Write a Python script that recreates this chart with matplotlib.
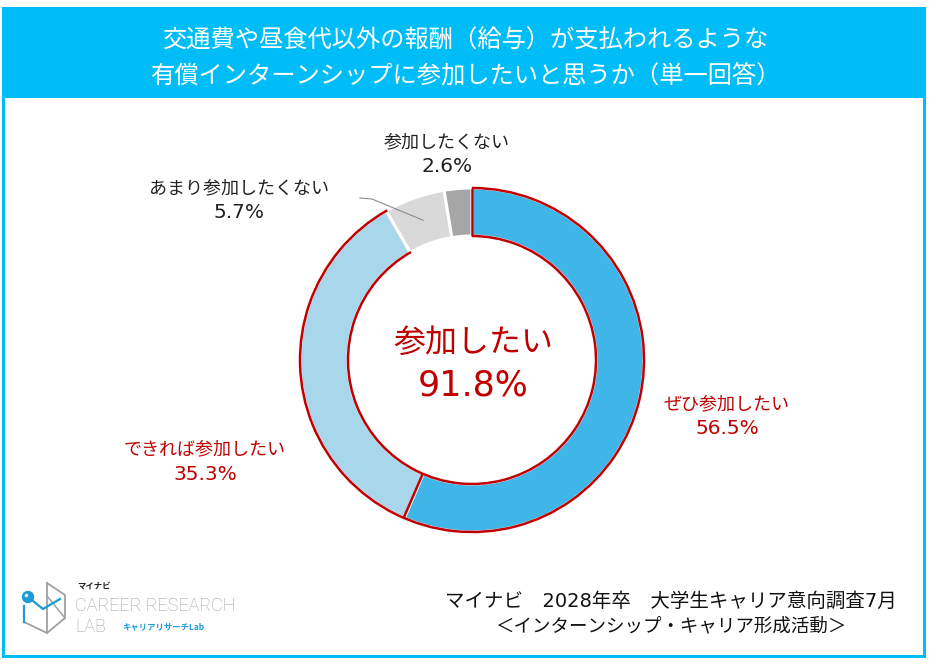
import numpy as np
import matplotlib
matplotlib.use('Agg')
import matplotlib.pyplot as plt
from matplotlib.patches import Rectangle, Arc, Circle

plt.rcParams['font.family'] = ['Noto Sans CJK JP', 'DejaVu Sans']

# データ
labels = ['ぜひ参加したい', 'できれば参加したい', 'あまり参加したくない', '参加したくない']
values = [56.5, 35.3, 5.7, 2.6]
colors = ['#3FB5E8', '#A8D7EC', '#D9D9D9', '#A6A6A6']
total_label = '参加したい'
total_value = 91.8
title = '交通費や昼食代以外の報酬（給与）が支払われるような\n有償インターンシップに参加したいと思うか（単一回答）'
source1 = 'マイナビ　2028年卒　大学生キャリア意向調査7月'
source2 = '＜インターンシップ・キャリア形成活動＞'

W, H = 934, 667
red = '#C00000'
frame_blue = '#00BDF7'
num_font = ['DejaVu Sans', 'Noto Sans CJK JP']

fig = plt.figure(figsize=(W / 100, H / 100), dpi=100)
ax = fig.add_axes([0, 0, 1, 1])

def Y(y):
    # 画像の上からのピクセルを下からの座標に
    return H - y

# 枠とヘッダー
ax.add_patch(Rectangle((3, Y(656)), 921, 648, fill=False, ec=frame_blue, lw=2.2, zorder=1))
ax.add_patch(Rectangle((3, Y(98)), 921, 90, fc=frame_blue, ec=frame_blue, lw=0, zorder=1))
ax.text(465, Y(58), title, ha='center', va='center', color='white', fontsize=17.5,
        linespacing=1.45, zorder=3)

# ドーナツ
cx, cy = 472, Y(360)
r_out, r_in = 172, 124
wedges, _ = ax.pie(values, colors=colors, startangle=90, counterclock=False,
                   radius=r_out, center=(cx, cy),
                   wedgeprops=dict(width=r_out - r_in, edgecolor='white', linewidth=2.2))

# 「参加したい」部分の赤い外枠
want = values[0] + values[1]
th_end = 90 - want * 3.6
for r in (r_out, r_in):
    ax.add_patch(Arc((cx, cy), 2 * r, 2 * r, theta1=th_end, theta2=90, color=red, lw=1.8, zorder=4))
for th in (90, 90 - values[0] * 3.6):
    t = np.deg2rad(th)
    ax.plot([cx + r_in * np.cos(t), cx + r_out * np.cos(t)],
            [cy + r_in * np.sin(t), cy + r_out * np.sin(t)], color=red, lw=1.8, zorder=4,
            solid_capstyle='butt')

# 中央のテキスト
ax.text(cx + 1, Y(343), total_label, ha='center', va='center', color=red, fontsize=23, zorder=5)
ax.text(cx + 1, Y(385), f'{total_value}%', ha='center', va='center', color=red, fontsize=25,
        family=num_font, zorder=5)

# ラベル
label_pos = [(727, 404, red), (205, 449, red), (239, 188, '#222222'), (447, 142, '#222222')]
for lab, v, (lx, ly, c) in zip(labels, values, label_pos):
    ax.text(lx, Y(ly), lab, ha='center', va='center', fontsize=13, color=c, zorder=5)
    ax.text(lx, Y(ly + 25), f'{v}%', ha='center', va='center', fontsize=14.5, color=c,
            family=num_font, zorder=5)

# あまり参加したくない の引き出し線
mid = 90 - (values[0] + values[1] + values[2] / 2) * 3.6
t = np.deg2rad(mid)
r_mid = (r_out + r_in) / 2
ax.plot([360, 372, cx + r_mid * np.cos(t)], [Y(198), Y(199), cy + r_mid * np.sin(t)],
        color='#8C8C8C', lw=0.8, zorder=5)

# 出典
ax.text(671, Y(601), source1, ha='center', va='center', fontsize=14, color='#111111',
        family=num_font, zorder=5)
ax.text(671, Y(626), source2, ha='center', va='center', fontsize=13.3, color='#111111', zorder=5)

# ロゴ(簡易)
g = '#A0A0A0'
b = '#1E9BD7'
ax.plot([47, 65, 65, 47, 24], [Y(583), Y(595), Y(618), Y(633), Y(622)], color=g, lw=1.3, zorder=5)
ax.plot([47, 47], [Y(583), Y(633)], color=g, lw=1.3, zorder=5)
ax.plot([47, 65], [Y(596), Y(618)], color=g, lw=1.1, zorder=5)
ax.plot([24, 24], [Y(606), Y(622)], color=b, lw=1.6, zorder=6)
ax.plot([28, 43, 60], [Y(597), Y(609), Y(599)], color=b, lw=1.6, zorder=6)
ax.add_patch(Circle((28, Y(597)), 5.5, fc=b, ec=b, zorder=7))
ax.add_patch(Circle((26.5, Y(595.5)), 1.8, fc='#D6F1FF', ec='none', zorder=8))
ax.text(77, Y(586), 'マイナビ', ha='left', va='center', fontsize=6, fontweight='bold', color='#222222', zorder=5)
ax.text(75, Y(606), 'CAREER RESEARCH', ha='left', va='center', fontsize=13, color=g,
        family=['Roboto', 'DejaVu Sans'], fontweight='light', zorder=5)
ax.text(75, Y(627), 'LAB', ha='left', va='center', fontsize=13, color=g,
        family=['Roboto', 'DejaVu Sans'], fontweight='light', zorder=5)
ax.text(122, Y(627), 'キャリアリサーチLab', ha='left', va='center', fontsize=6, fontweight='bold',
        color=b, zorder=5)

ax.set_xlim(0, W)
ax.set_ylim(0, H)
ax.set_aspect('auto')
ax.axis('off')

fig.savefig('out.png', dpi=100, facecolor='white')
